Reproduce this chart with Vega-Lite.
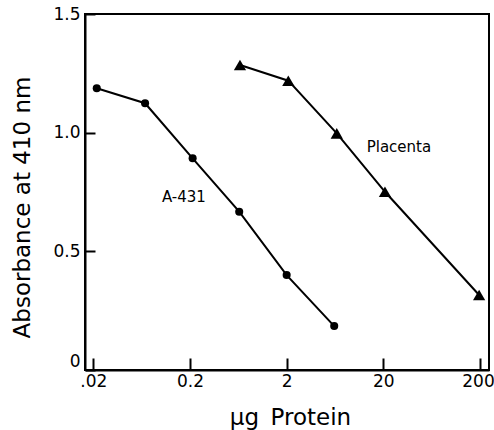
{
  "$schema": "https://vega.github.io/schema/vega-lite/v6.json",
  "autosize": {"type": "none"},
  "padding": {"left": 85, "top": 14, "right": 5, "bottom": 60},
  "width": 404,
  "height": 356,
  "background": "white",
  "config": {
    "view": {"stroke": "black", "strokeWidth": 2},
    "font": "DejaVu Sans",
    "axis": {
      "domainColor": "black",
      "domainWidth": 2,
      "tickColor": "black",
      "tickWidth": 2,
      "labelColor": "black",
      "titleColor": "black",
      "labelFont": "DejaVu Sans",
      "titleFont": "DejaVu Sans",
      "labelFontSize": 17,
      "titleFontSize": 23,
      "titleFontWeight": "normal",
      "grid": false
    }
  },
  "datasets": {
    "curves": [
      {"series": "A-431", "protein": 0.0217, "absorbance": 1.187},
      {"series": "A-431", "protein": 0.0686, "absorbance": 1.124},
      {"series": "A-431", "protein": 0.213, "absorbance": 0.892},
      {"series": "A-431", "protein": 0.646, "absorbance": 0.667},
      {"series": "A-431", "protein": 2.0, "absorbance": 0.4},
      {"series": "A-431", "protein": 6.21, "absorbance": 0.185},
      {"series": "Placenta", "protein": 0.658, "absorbance": 1.285},
      {"series": "Placenta", "protein": 2.08, "absorbance": 1.219},
      {"series": "Placenta", "protein": 6.6, "absorbance": 0.997},
      {"series": "Placenta", "protein": 20.8, "absorbance": 0.751},
      {"series": "Placenta", "protein": 196, "absorbance": 0.316}
    ],
    "labels": [
      {"text": "A-431", "protein": 0.173, "absorbance": 0.729},
      {"text": "Placenta", "protein": 29.0, "absorbance": 0.94}
    ]
  },
  "layer": [
    {
      "data": {"name": "curves"},
      "mark": {"type": "line", "color": "black", "strokeWidth": 2},
      "encoding": {
        "x": {
          "field": "protein",
          "type": "quantitative",
          "scale": {"type": "log", "domain": [0.0164, 248], "nice": false},
          "axis": {
            "values": [0.02, 0.2, 2, 20, 200],
            "labelExpr": "datum.value < 0.05 ? '.02' : format(datum.value, '~g')",
            "tickSize": -12,
            "labelPadding": 15,
            "labelOffset": {"condition": {"test": "datum.value > 100", "value": -2}, "value": 0},
            "title": "μg\u2002Protein",
            "titleX": 205,
            "titleY": 54,
            "titleAnchor": "middle",
            "titleAlign": "center",
            "titleBaseline": "alphabetic"
          }
        },
        "y": {
          "field": "absorbance",
          "type": "quantitative",
          "scale": {"domain": [0, 1.5], "nice": false},
          "axis": {
            "values": [0, 0.5, 1.0, 1.5],
            "labelExpr": "datum.value == 0 ? '0' : format(datum.value, '.1f')",
            "labelBaseline": {"condition": {"test": "datum.value == 0", "value": "bottom"}, "value": "middle"},
            "tickSize": -10,
            "labelPadding": 15,
            "title": "Absorbance at 410 nm",
            "titleX": -63,
            "titleY": 193,
            "titleAngle": 270,
            "titleAlign": "center",
            "titleBaseline": "middle"
          }
        },
        "detail": {"field": "series"}
      }
    },
    {
      "data": {"name": "curves"},
      "mark": {"type": "point", "filled": true, "color": "black", "opacity": 1},
      "encoding": {
        "x": {"field": "protein", "type": "quantitative"},
        "y": {"field": "absorbance", "type": "quantitative"},
        "shape": {
          "field": "series",
          "type": "nominal",
          "scale": {"domain": ["A-431", "Placenta"], "range": ["circle", "triangle-up"]},
          "legend": null
        },
        "size": {
          "field": "series",
          "type": "nominal",
          "scale": {"domain": ["A-431", "Placenta"], "range": [65, 150]},
          "legend": null
        }
      }
    },
    {
      "data": {"name": "labels"},
      "mark": {"type": "text", "font": "DejaVu Sans", "fontSize": 15, "color": "black"},
      "encoding": {
        "x": {"field": "protein", "type": "quantitative"},
        "y": {"field": "absorbance", "type": "quantitative"},
        "text": {"field": "text"}
      }
    }
  ]
}
